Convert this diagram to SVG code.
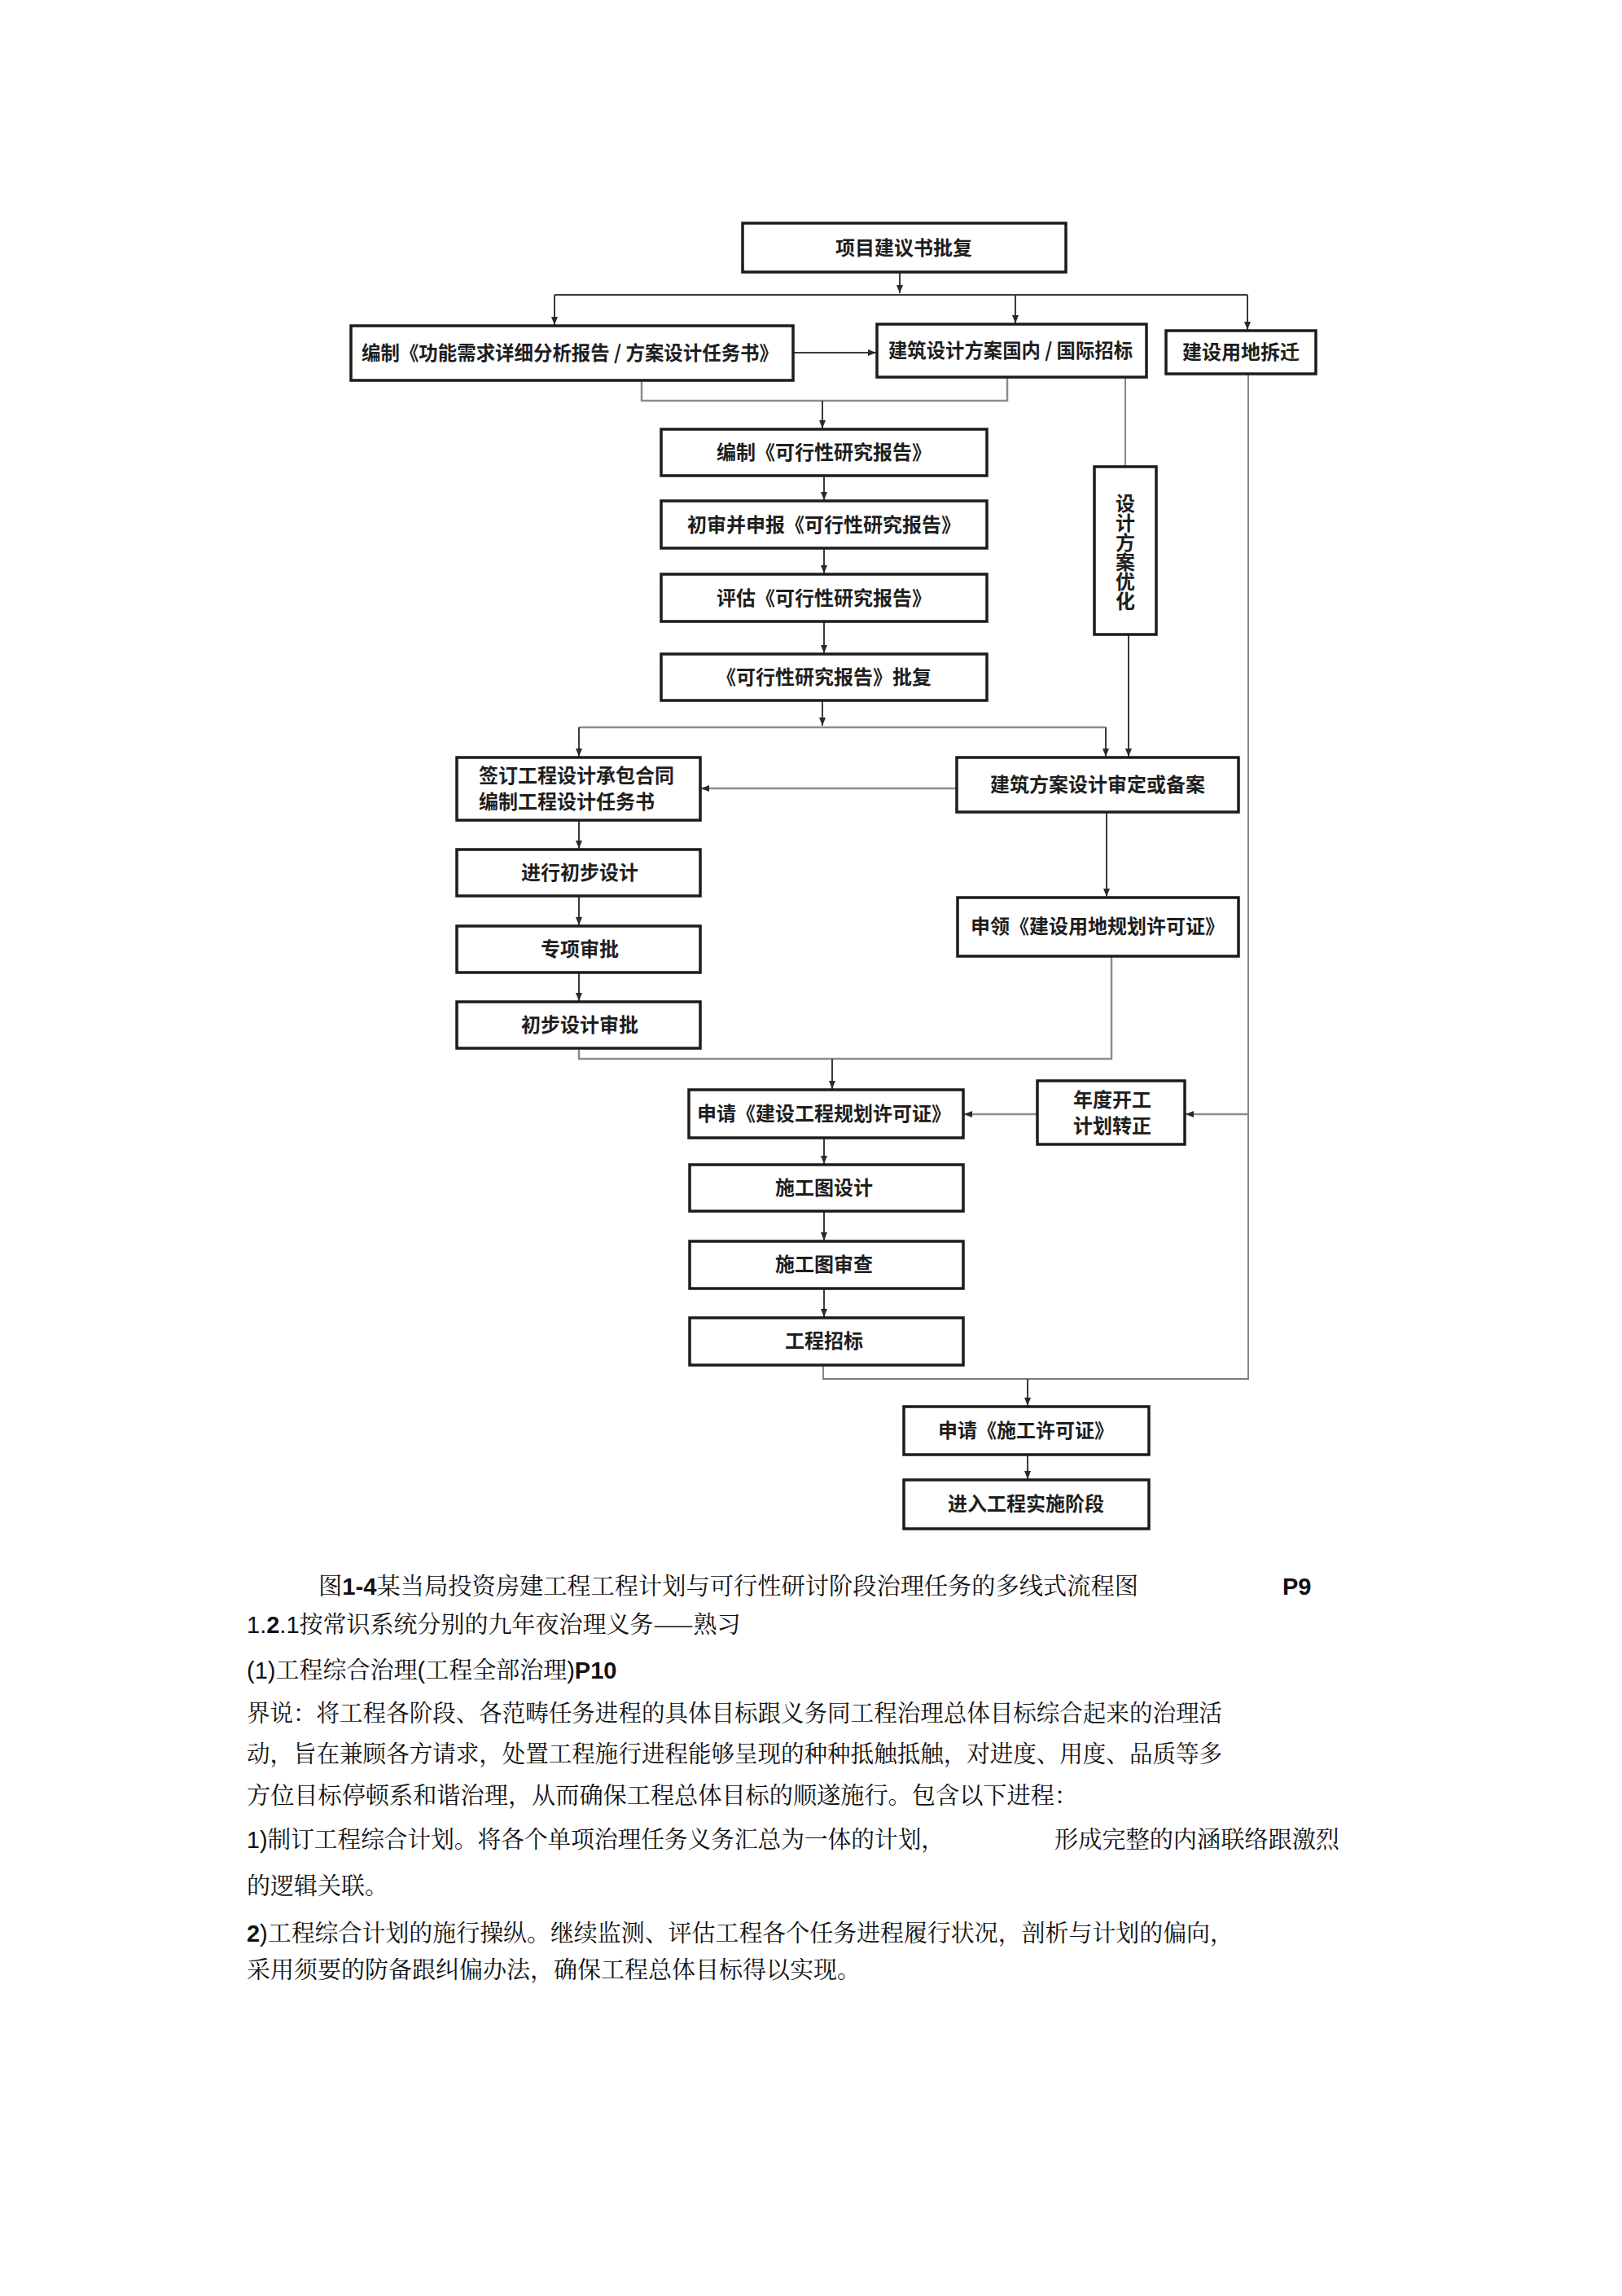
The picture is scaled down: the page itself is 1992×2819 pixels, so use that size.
<svg xmlns="http://www.w3.org/2000/svg" width="1992" height="2819" viewBox="0 0 1992 2819">
<style>
.box{fill:#fff;stroke:#1c1c1c;stroke-width:3.5}
.bt{font-family:"Noto Sans CJK SC","Noto Sans",sans-serif;font-weight:700;font-size:24px;fill:#1e1e1e;text-anchor:middle}
.bl{text-anchor:start}
.vt{writing-mode:vertical-rl;text-anchor:start;letter-spacing:0px}
.c{fill:none;stroke:#3a3a3a;stroke-width:2}
.cl{fill:none;stroke:#8c8c8c;stroke-width:2.5}
.cg{fill:none;stroke:#7a7a7a;stroke-width:1.8}
.tx{font-family:"Noto Serif CJK SC","Noto Sans CJK SC","Liberation Serif",serif;font-size:29px;fill:#111}
.lat{font-family:"Liberation Sans",Arial,sans-serif;font-weight:700}
.latn{font-family:"Liberation Sans",Arial,sans-serif}
</style>
<defs>
<marker id="ar" markerUnits="userSpaceOnUse" markerWidth="10" markerHeight="10" refX="10" refY="4" orient="auto">
<path d="M0,0 L10,4 L0,8 z" fill="#2a2a2a"/>
</marker>
</defs>
<rect width="1992" height="2819" fill="#fff"/>

<g id="connectors">
<path class="c" d="M1105,334 V360" marker-end="url(#ar)"/>
<path class="c" d="M681,362 H1532"/>
<path class="c" d="M681,362 V399" marker-end="url(#ar)"/>
<path class="c" d="M1247,362 V397" marker-end="url(#ar)"/>
<path class="c" d="M1532,362 V405" marker-end="url(#ar)"/>
<path class="c" d="M974,433 H1076" marker-end="url(#ar)"/>
<path class="cl" d="M788,467 V492 H1237 V463"/>
<path class="c" d="M1010,492 V526" marker-end="url(#ar)"/>
<path class="cg" d="M1382,463 V573"/>
<path class="c" d="M1012,584 V614" marker-end="url(#ar)"/>
<path class="c" d="M1012,673 V704" marker-end="url(#ar)"/>
<path class="c" d="M1012,763 V802" marker-end="url(#ar)"/>
<path class="c" d="M1010,860 V891" marker-end="url(#ar)"/>
<path class="cl" d="M711,893 H1358"/>
<path class="c" d="M711,893 V929" marker-end="url(#ar)"/>
<path class="c" d="M1358,893 V929" marker-end="url(#ar)"/>
<path class="c" d="M1386,779 V929" marker-end="url(#ar)"/>
<path class="cl" d="M1175,968 H861" marker-end="url(#ar)"/>
<path class="c" d="M711,1007 V1042" marker-end="url(#ar)"/>
<path class="c" d="M711,1100 V1136" marker-end="url(#ar)"/>
<path class="c" d="M711,1194 V1229" marker-end="url(#ar)"/>
<path class="c" d="M1359,997 V1101" marker-end="url(#ar)"/>
<path class="cl" d="M711,1287 V1300 H1365 V1174"/>
<path class="c" d="M1022,1300 V1337" marker-end="url(#ar)"/>
<path class="cg" d="M1533,459 V1693 H1011 V1676"/>
<path class="cl" d="M1533,1368 H1456" marker-end="url(#ar)"/>
<path class="cl" d="M1274,1368 H1184" marker-end="url(#ar)"/>
<path class="c" d="M1012,1397 V1429" marker-end="url(#ar)"/>
<path class="c" d="M1012,1487 V1523" marker-end="url(#ar)"/>
<path class="c" d="M1012,1582 V1617" marker-end="url(#ar)"/>
<path class="c" d="M1262,1693 V1726" marker-end="url(#ar)"/>
<path class="c" d="M1262,1786 V1816" marker-end="url(#ar)"/>
</g>

<g id="n1"><rect class="box" x="912" y="274" width="397" height="60"/><text class="bt" x="1110" y="313">项目建议书批复</text></g>
<g id="n2"><rect class="box" x="431" y="400" width="543" height="67"/><text class="bt" x="700" y="442" textLength="512" lengthAdjust="spacingAndGlyphs">编制《功能需求详细分析报告 / 方案设计任务书》</text></g>
<g id="n3"><rect class="box" x="1077" y="398" width="331" height="65"/><text class="bt" x="1241" y="439" textLength="300" lengthAdjust="spacingAndGlyphs">建筑设计方案国内 / 国际招标</text></g>
<g id="n4"><rect class="box" x="1432" y="406" width="184" height="53"/><text class="bt" x="1524" y="441">建设用地拆迁</text></g>
<g id="n5"><rect class="box" x="812" y="527" width="400" height="57"/><text class="bt" x="1012" y="564">编制《可行性研究报告》</text></g>
<g id="n6"><rect class="box" x="812" y="615" width="400" height="58"/><text class="bt" x="1012" y="653">初审并申报《可行性研究报告》</text></g>
<g id="n7"><rect class="box" x="812" y="705" width="400" height="58"/><text class="bt" x="1012" y="743">评估《可行性研究报告》</text></g>
<g id="n8"><rect class="box" x="812" y="803" width="400" height="57"/><text class="bt" x="1012" y="840">《可行性研究报告》批复</text></g>
<g id="n9"><rect class="box" x="1344" y="573" width="76" height="206"/>
<text class="bt vt" x="1382" y="606">设计方案优化</text></g>
<g id="n10"><rect class="box" x="561" y="930" width="299" height="77"/><text class="bt bl" x="588" y="961">签订工程设计承包合同<tspan x="588" dy="32">编制工程设计任务书</tspan></text></g>
<g id="n11"><rect class="box" x="1175" y="930" width="346" height="67"/><text class="bt" x="1348" y="972">建筑方案设计审定或备案</text></g>
<g id="n12"><rect class="box" x="561" y="1043" width="299" height="57"/><text class="bt" x="712" y="1080">进行初步设计</text></g>
<g id="n13"><rect class="box" x="561" y="1137" width="299" height="57"/><text class="bt" x="712" y="1174">专项审批</text></g>
<g id="n14"><rect class="box" x="561" y="1230" width="299" height="57"/><text class="bt" x="712" y="1267">初步设计审批</text></g>
<g id="n15"><rect class="box" x="1176" y="1102" width="345" height="72"/><text class="bt" x="1348" y="1146">申领《建设用地规划许可证》</text></g>
<g id="n16"><rect class="box" x="846" y="1338" width="337" height="59"/><text class="bt" x="1012" y="1376">申请《建设工程规划许可证》</text></g>
<g id="n17"><rect class="box" x="1274" y="1327" width="181" height="78"/><text class="bt" x="1366" y="1359">年度开工<tspan x="1366" dy="32">计划转正</tspan></text></g>
<g id="n18"><rect class="box" x="847" y="1430" width="336" height="57"/><text class="bt" x="1012" y="1467">施工图设计</text></g>
<g id="n19"><rect class="box" x="847" y="1524" width="336" height="58"/><text class="bt" x="1012" y="1561">施工图审查</text></g>
<g id="n20"><rect class="box" x="847" y="1618" width="336" height="58"/><text class="bt" x="1012" y="1655">工程招标</text></g>
<g id="n21"><rect class="box" x="1110" y="1727" width="301" height="59"/><text class="bt" x="1260" y="1765">申请《施工许可证》</text></g>
<g id="n22"><rect class="box" x="1110" y="1817" width="301" height="60"/><text class="bt" x="1260" y="1855">进入工程实施阶段</text></g>

<g id="body">
<text class="tx" x="391" y="1958" textLength="1007" lengthAdjust="spacingAndGlyphs">图<tspan class="lat">1-4</tspan>某当局投资房建工程工程计划与可行性研讨阶段治理任务的多线式流程图</text>
<text class="tx lat" x="1575" y="1958">P9</text>
<text class="tx" x="303" y="2005"><tspan class="latn">1.</tspan><tspan class="lat">2</tspan><tspan class="latn">.1</tspan>按常识系统分别的九年夜治理义务——熟习</text>
<text class="tx" x="303" y="2061"><tspan class="latn">(1)</tspan>工程综合治理<tspan class="latn">(</tspan>工程全部治理<tspan class="latn">)</tspan><tspan class="lat">P10</tspan></text>
<text class="tx" x="303" y="2114" textLength="1198" lengthAdjust="spacingAndGlyphs">界说：将工程各阶段、各范畴任务进程的具体目标跟义务同工程治理总体目标综合起来的治理活</text>
<text class="tx" x="303" y="2164" textLength="1198" lengthAdjust="spacingAndGlyphs">动，旨在兼顾各方请求，处置工程施行进程能够呈现的种种抵触抵触，对进度、用度、品质等多</text>
<text class="tx" x="303" y="2215" textLength="1021" lengthAdjust="spacingAndGlyphs">方位目标停顿系和谐治理，从而确保工程总体目标的顺遂施行。包含以下进程：</text>
<text class="tx" x="303" y="2269" textLength="857" lengthAdjust="spacingAndGlyphs"><tspan class="latn">1)</tspan>制订工程综合计划。将各个单项治理任务义务汇总为一体的计划，</text>
<text class="tx" x="1295" y="2269" textLength="350" lengthAdjust="spacingAndGlyphs">形成完整的内涵联络跟激烈</text>
<text class="tx" x="303" y="2326">的逻辑关联。</text>
<text class="tx" x="303" y="2384" textLength="1212" lengthAdjust="spacingAndGlyphs"><tspan class="lat">2</tspan><tspan class="latn">)</tspan>工程综合计划的施行操纵。继续监测、评估工程各个任务进程履行状况，剖析与计划的偏向，</text>
<text class="tx" x="303" y="2429">采用须要的防备跟纠偏办法，确保工程总体目标得以实现。</text>
</g>
</svg>
